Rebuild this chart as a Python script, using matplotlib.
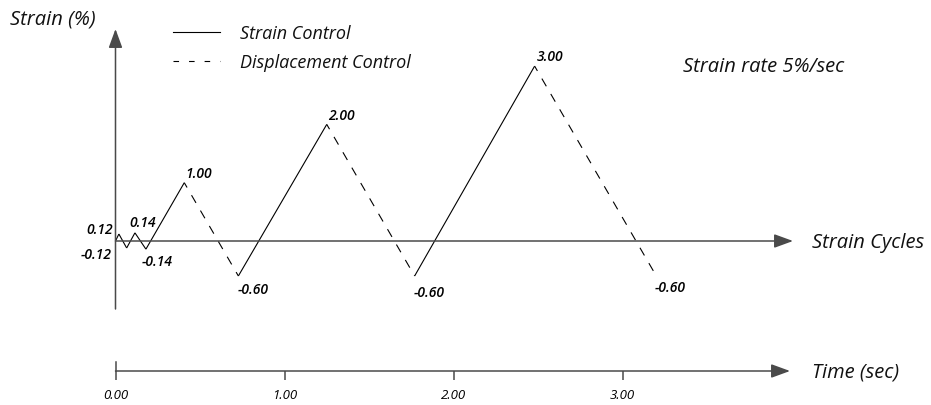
import matplotlib
matplotlib.use("Agg")
import matplotlib.pyplot as plt
from matplotlib.lines import Line2D

# ---- data ----
time_s = [0.0, 0.02, 0.066, 0.115, 0.18, 0.407, 0.727, 1.25, 1.77, 2.48, 3.20]
strain_pct = [0.0, 0.12, -0.12, 0.14, -0.14, 1.00, -0.60, 2.00, -0.60, 3.00, -0.60]
segment_mode = ["S", "S", "S", "S", "S", "D", "S", "D", "S", "D"]  # S = strain control, D = displacement control
time_ticks = [0.0, 1.0, 2.0, 3.0]
time_tick_labels = ["0.00", "1.00", "2.00", "3.00"]
legend_labels = ["Strain Control", "Displacement Control"]

FONT = "Open Sans"
W, H, DPI = 931, 406, 100
fig = plt.figure(figsize=(W / DPI, H / DPI), dpi=DPI)
ax = fig.add_axes([0, 0, 1, 1])
px_per_s, x0_px = 169.0, 115.5
px_per_pct, y0_px = 58.3, 242.0
ax.set_xlim(-x0_px / px_per_s, (W - x0_px) / px_per_s)
ax.set_ylim(-(H - y0_px) / px_per_pct, y0_px / px_per_pct)
ax.axis("off")

def t_of(px):
    return (px - x0_px) / px_per_s

def s_of(py):
    return (y0_px - py) / px_per_pct

axis_col = "#4a4a4a"
arrow_kw = dict(arrowstyle="-|>,head_length=1.15,head_width=0.42", mutation_scale=10,
                color=axis_col, lw=1.1, shrinkA=0, shrinkB=0)
# vertical strain axis
ax.annotate("", xy=(0, s_of(30)), xytext=(0, s_of(310)), arrowprops=arrow_kw)
# horizontal strain-cycles axis
ax.annotate("", xy=(t_of(793), 0), xytext=(0, 0), arrowprops=arrow_kw)

# data segments
for i, m in enumerate(segment_mode):
    xs = time_s[i:i + 2]
    ys = strain_pct[i:i + 2]
    if m == "S":
        ax.plot(xs, ys, color="black", lw=0.8, solid_capstyle="butt")
    else:
        ax.plot(xs, ys, color="black", lw=0.8, linestyle=(3, (8, 8)))

# point labels
offsets = [None, (-6, 5, "right"), (-15, -6, "right"), (7.5, 11, "center"), (-4, -12, "left"),
           (1, 10, "left"), (-1, -13, "left"), (1, 9, "left"), (-1, -16, "left"),
           (2, 10, "left"), (-2, -11, "left")]
for t, v, off in zip(time_s, strain_pct, offsets):
    if off is None:
        continue
    dx, dy, ha = off
    ax.annotate(f"{v:.2f}", xy=(t, v), xytext=(dx, dy), textcoords="offset pixels",
                ha=ha, va="center", fontsize=10, fontstyle="italic", fontweight="semibold",
                family=FONT, color="black")

# texts
txt_kw = dict(fontstyle="italic", family=FONT, color="#111111")
fig.text(10 / W, 1 - 20 / H, "Strain (%)", ha="left", va="center", fontsize=14.5, **txt_kw)
fig.text(683 / W, 1 - 67 / H, "Strain rate 5%/sec", ha="left", va="center", fontsize=14.5, **txt_kw)
fig.text(812 / W, 1 - 243 / H, "Strain Cycles", ha="left", va="center", fontsize=14.5, **txt_kw)
fig.text(812 / W, 1 - 373 / H, "Time (sec)", ha="left", va="center", fontsize=14.5, **txt_kw)

# legend
handles = [Line2D([], [], color="black", lw=0.8),
           Line2D([], [], color="black", lw=0.8, linestyle=(0, (5, 9)))]
leg = ax.legend(handles, legend_labels, loc="upper left", bbox_to_anchor=(173 / W, 1 - 25 / H),
                frameon=False, handlelength=2.6, handletextpad=1.1, labelspacing=0.6,
                borderpad=0, borderaxespad=0,
                prop=dict(family=FONT, style="italic", size=13))
for t in leg.get_texts():
    t.set_color("#111111")

# time axis
ax2 = fig.add_axes([0, (H - 372) / H, 1, 0.0001])
ax2.set_xlim(ax.get_xlim())
ax2.set_ylim(0, 1)
for sp in ["top", "left", "right", "bottom"]:
    ax2.spines[sp].set_visible(False)
ax2.set_yticks([])
ax2.set_xticks(time_ticks)
ax2.set_xticklabels(time_tick_labels, fontstyle="italic", family=FONT, fontsize=9.5)
ax2.tick_params(axis="x", direction="out", length=6.5, width=1.1, color=axis_col, pad=6)
ax2.patch.set_visible(False)
ax.annotate("", xy=(t_of(790), s_of(372)), xytext=(0, s_of(372)), arrowprops=arrow_kw)
ax.plot([0, 0], [s_of(363), s_of(372)], color=axis_col, lw=1.1)

fig.savefig("out.png", dpi=DPI)
